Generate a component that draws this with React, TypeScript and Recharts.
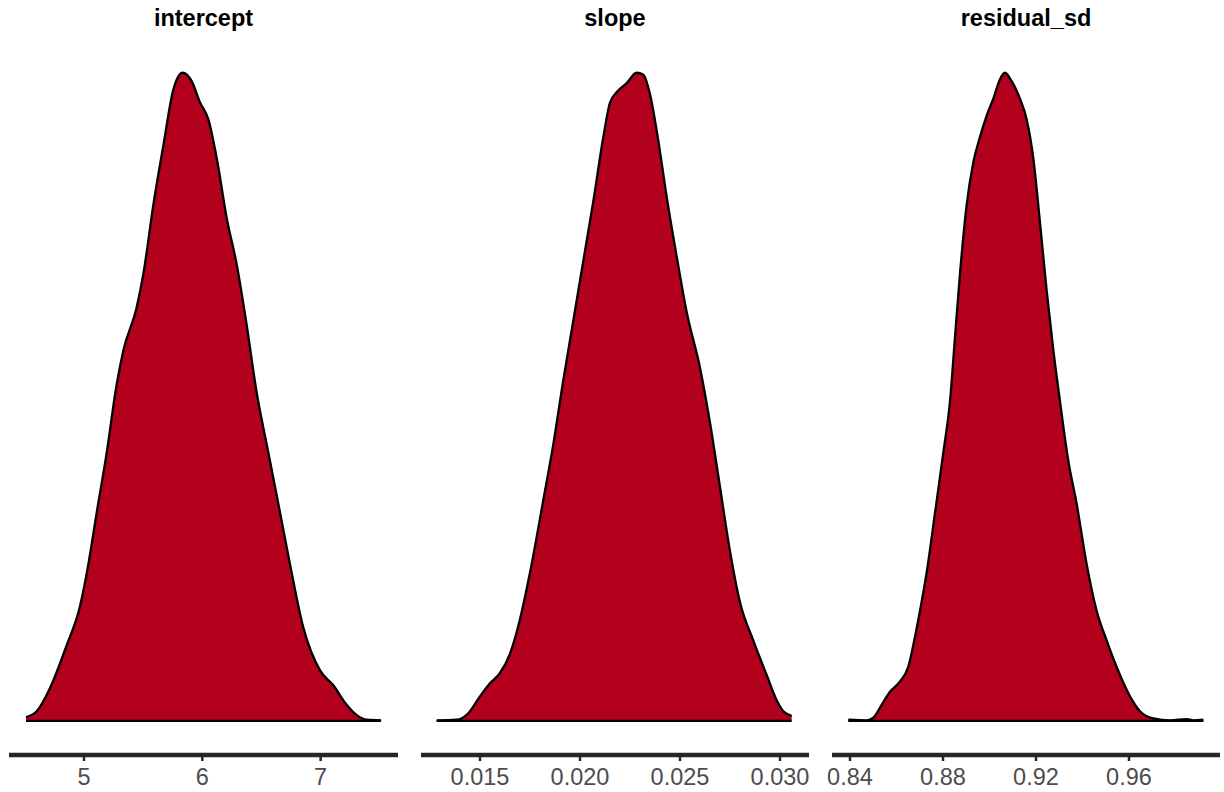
import React from "react"
import { AreaChart, Area, XAxis, YAxis, ReferenceLine } from "recharts"

// density curves (height scaled so the peak = 1)
const interceptX = [4.51, 4.6, 4.713, 4.854, 4.966, 5.037, 5.107, 5.192, 5.276, 5.333, 5.445, 5.502, 5.586, 5.671, 5.755, 5.834, 5.91, 5.981, 6.051, 6.122, 6.206, 6.291, 6.375, 6.46, 6.544, 6.629, 6.741, 6.854, 6.995, 7.107, 7.22, 7.305, 7.39, 7.511]
const interceptY = [0.006, 0.015, 0.051, 0.117, 0.177, 0.242, 0.321, 0.414, 0.519, 0.572, 0.638, 0.69, 0.796, 0.888, 0.974, 1, 0.987, 0.954, 0.928, 0.868, 0.776, 0.704, 0.611, 0.506, 0.427, 0.348, 0.242, 0.144, 0.078, 0.055, 0.025, 0.009, 0.002, 0.001]

const slopeX = [0.012833, 0.013833, 0.014417, 0.015, 0.0155, 0.016, 0.0165, 0.017, 0.0175, 0.018167, 0.018667, 0.019167, 0.019667, 0.020167, 0.020667, 0.021167, 0.0215, 0.021833, 0.022333, 0.022833, 0.023167, 0.0235, 0.023917, 0.024333, 0.024833, 0.025333, 0.026, 0.0265, 0.027, 0.0275, 0.028, 0.028667, 0.029333, 0.029833, 0.030167, 0.030583]
const slopeY = [0.001, 0.002, 0.012, 0.038, 0.058, 0.074, 0.104, 0.157, 0.229, 0.341, 0.427, 0.526, 0.618, 0.71, 0.802, 0.901, 0.954, 0.97, 0.984, 1, 0.997, 0.967, 0.895, 0.809, 0.717, 0.631, 0.545, 0.46, 0.361, 0.262, 0.183, 0.124, 0.071, 0.032, 0.015, 0.008]

const sdX = [0.83928, 0.84717, 0.85003, 0.85362, 0.8572, 0.86151, 0.86509, 0.86796, 0.87011, 0.87298, 0.87656, 0.88014, 0.88301, 0.88516, 0.88731, 0.89018, 0.89305, 0.89591, 0.89878, 0.90165, 0.90452, 0.90667, 0.90953, 0.91312, 0.91599, 0.91885, 0.92172, 0.92459, 0.92746, 0.93032, 0.93391, 0.93749, 0.94179, 0.94609, 0.95041, 0.95613, 0.96043, 0.96473, 0.97047, 0.97763, 0.98481, 0.98767, 0.99198]
const sdY = [0.002, 0.001, 0.005, 0.025, 0.045, 0.061, 0.084, 0.13, 0.17, 0.229, 0.321, 0.414, 0.493, 0.592, 0.69, 0.796, 0.862, 0.901, 0.934, 0.96, 0.99, 1, 0.987, 0.96, 0.928, 0.868, 0.769, 0.664, 0.572, 0.493, 0.401, 0.335, 0.242, 0.17, 0.124, 0.071, 0.038, 0.015, 0.004, 0.001, 0.003, 0.001, 0.002]

const interceptTicks = [5, 6, 7]
const slopeTicks = [0.015, 0.02, 0.025, 0.03]
const sdTicks = [0.84, 0.88, 0.92, 0.96]

const FONT = "'Liberation Sans', Arial, Helvetica, sans-serif"
const FILL = "#b2001d"
const AXIS = "#262626"
const PAD = 24 // room for tick labels that hang past the panel edge

interface PanelProps {
  title: string
  xs: number[]
  ys: number[]
  ticks: number[]
  domain: [number, number]
  digits: number
  left: number
  width: number
}

function DensityPanel({ title, xs, ys, ticks, domain, digits, left, width }: PanelProps) {
  const data = xs.map((x, i) => ({ x, y: ys[i] }))
  const xmin = xs[0]
  const xmax = xs[xs.length - 1]
  return (
    <div style={{ position: "absolute", left: left - PAD, top: 0, width: width + 2 * PAD, height: 792 }}>
      <div
        style={{
          position: "absolute",
          left: PAD,
          top: 7,
          width,
          textAlign: "center",
          fontFamily: FONT,
          fontWeight: "bold",
          fontSize: 23.5,
          lineHeight: "23.5px",
          color: "#000",
        }}
      >
        {title}
      </div>
      <AreaChart
        width={width + 2 * PAD}
        height={792}
        data={data}
        margin={{ top: 41, right: PAD, left: PAD, bottom: 0 }}
      >
        <XAxis
          dataKey="x"
          type="number"
          scale="linear"
          domain={domain}
          allowDataOverflow
          ticks={ticks}
          interval={0}
          height={37}
          tickFormatter={(v: number) => v.toFixed(digits)}
          axisLine={{ stroke: AXIS, strokeWidth: 4.5 }}
          tickLine={{ stroke: AXIS, strokeWidth: 2.5 }}
          tickSize={6}
          tickMargin={7}
          tick={{ fill: "#4d4d4d", fontSize: 23.5, fontFamily: FONT }}
        />
        <YAxis hide type="number" domain={[-0.0525, 1.049]} allowDataOverflow />
        <Area
          type="monotone"
          dataKey="y"
          stroke="#000"
          strokeWidth={2.3}
          fill={FILL}
          fillOpacity={1}
          dot={false}
          activeDot={false}
          isAnimationActive={false}
        />
        <ReferenceLine
          segment={[{ x: xmin, y: 0 }, { x: xmax, y: 0 }]}
          stroke="#000"
          strokeWidth={2.3}
        />
      </AreaChart>
    </div>
  )
}

export default function App() {
  return (
    <div style={{ position: "absolute", left: 0, top: 0, width: 1224, height: 792, background: "#fff" }}>
      <DensityPanel title="intercept" xs={interceptX} ys={interceptY} ticks={interceptTicks} domain={[4.366, 7.654]} digits={0} left={9} width={389} />
      <DensityPanel title="slope" xs={slopeX} ys={slopeY} ticks={slopeTicks} domain={[0.01205, 0.03145]} digits={3} left={421} width={388} />
      <DensityPanel title="residual_sd" xs={sdX} ys={sdY} ticks={sdTicks} domain={[0.83226, 0.99914]} digits={2} left={832} width={388} />
    </div>
  )
}
